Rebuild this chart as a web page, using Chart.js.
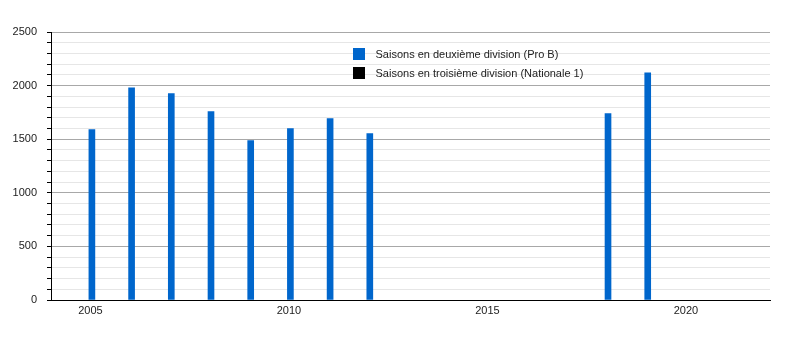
<!DOCTYPE html>
<html><head><meta charset="utf-8">
<script src="https://cdn.jsdelivr.net/npm/chart.js@4/dist/chart.umd.min.js"></script>
<style>html,body{margin:0;padding:0;background:#fff}#wrap{width:800px;height:350px;position:relative}</style>
</head><body><div id="wrap"><canvas id="c" width="800" height="350"></canvas></div>
<script>
const years = [2005, 2006, 2007, 2008, 2009, 2010, 2011, 2012, 2018, 2019];
const proB = [1590, 1980, 1925, 1757, 1487, 1599, 1692, 1552, 1738, 2119];
const nationale1Years = [];
const nationale1 = [];
const seriesLabels = ['Saisons en deuxième division (Pro B)', 'Saisons en troisième division (Nationale 1)'];
const seriesColors = ['#0066cc', '#000000'];
const xTickValues = [2005, 2010, 2015, 2020];
const yMajorStep = 500;
const yMinorStep = 100;

const FONT = '"Liberation Sans", Arial, sans-serif';

const legendPlugin = {
  id: 'customLegend',
  afterDraw(chart) {
    const ctx = chart.ctx;
    ctx.save();
    ctx.font = '11px ' + FONT;
    ctx.textBaseline = 'middle';
    ctx.textAlign = 'left';
    chart.data.datasets.forEach((ds, i) => {
      const y = 54 + i * 18.5;
      ctx.fillStyle = ds.backgroundColor;
      ctx.fillRect(353, Math.round(y - 6), 12, 12);
      ctx.fillStyle = '#222';
      ctx.fillText(ds.label, 375.5, y + 1);
    });
    ctx.restore();
  }
};

new Chart(document.getElementById('c'), {
  type: 'bar',
  data: {
    datasets: [
      { label: seriesLabels[0], data: years.map((y, i) => ({ x: y, y: proB[i] })), backgroundColor: seriesColors[0], barThickness: 6, grouped: false },
      { label: seriesLabels[1], data: nationale1Years.map((y, i) => ({ x: y, y: nationale1[i] })), backgroundColor: seriesColors[1], barThickness: 6, grouped: false }
    ]
  },
  options: {
    responsive: false,
    animation: false,
    devicePixelRatio: 1,
    layout: { padding: { top: 32, right: 30, left: 0, bottom: 0 } },
    plugins: { legend: { display: false }, tooltip: { enabled: false } },
    scales: {
      x: {
        type: 'linear',
        offset: false,
        min: 2003.97,
        max: 2022.08,
        afterBuildTicks: s => { s.ticks = xTickValues.map(v => ({ value: v })); },
        afterFit: s => { s.height = 50; },
        grid: { display: false, drawTicks: false },
        border: { display: true, color: '#000', width: 1 },
        ticks: { callback: v => String(v), font: { family: FONT, size: 11 }, color: '#222', padding: 4, labelOffset: -1.5, autoSkip: false, maxRotation: 0 }
      },
      y: {
        min: 0,
        max: 2500,
        afterFit: s => { s.width = 51; },
        grid: {
          color: c => (c.tick && c.tick.value % yMajorStep === 0) ? '#a8a8a8' : '#e6e6e6',
          tickColor: '#000',
          tickLength: 4,
          drawTicks: true
        },
        border: { display: true, color: '#000', width: 1 },
        ticks: {
          stepSize: yMinorStep,
          maxTicksLimit: 100,
          autoSkip: false,
          padding: 10,
          font: { family: FONT, size: 11 },
          color: '#222',
          callback: v => (v % yMajorStep === 0 ? String(v) : '')
        }
      }
    }
  },
  plugins: [legendPlugin]
});
</script>
</body></html>
